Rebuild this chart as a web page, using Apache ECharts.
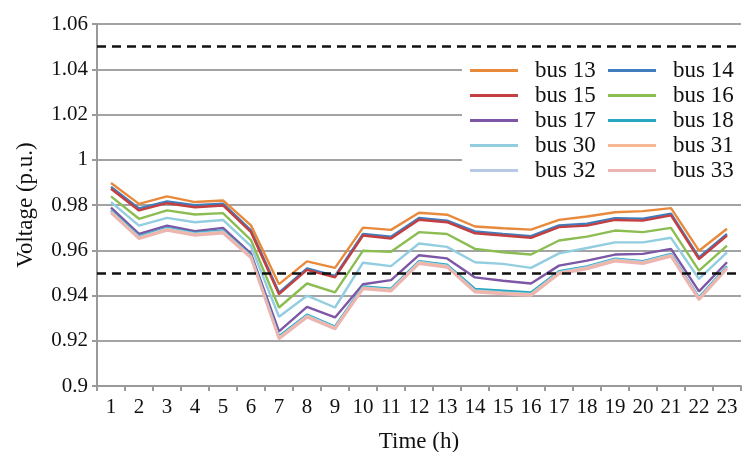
<!DOCTYPE html>
<html>
<head>
<meta charset="utf-8">
<script src="https://cdn.jsdelivr.net/npm/echarts@6/dist/echarts.min.js"></script>
<style>
  html, body { margin: 0; padding: 0; background: #fff; }
  #chart { width: 742px; height: 452px; }
</style>
</head>
<body>
<div id="chart"></div>
<script>
// Hours of the day on the category axis
const hours = ['1','2','3','4','5','6','7','8','9','10','11','12','13','14','15','16','17','18','19','20','21','22','23'];

// Bus voltages (p.u.) per hour
const bus13 = [0.9897, 0.9805, 0.9838, 0.9813, 0.9820, 0.9710, 0.9450, 0.9551, 0.9522, 0.9700, 0.9690, 0.9766, 0.9757, 0.9705, 0.9697, 0.9691, 0.9734, 0.9749, 0.9768, 0.9773, 0.9786, 0.9598, 0.9695];
const bus14 = [0.9880, 0.9785, 0.9816, 0.9799, 0.9806, 0.9688, 0.9413, 0.9520, 0.9487, 0.9672, 0.9660, 0.9743, 0.9731, 0.9683, 0.9672, 0.9662, 0.9710, 0.9717, 0.9742, 0.9739, 0.9762, 0.9568, 0.9672];
const bus15 = [0.9872, 0.9776, 0.9808, 0.9790, 0.9798, 0.9680, 0.9406, 0.9513, 0.9480, 0.9665, 0.9652, 0.9735, 0.9724, 0.9675, 0.9665, 0.9655, 0.9702, 0.9709, 0.9734, 0.9731, 0.9754, 0.9561, 0.9665];
const bus16 = [0.9838, 0.9739, 0.9776, 0.9758, 0.9764, 0.9645, 0.9347, 0.9453, 0.9414, 0.9598, 0.9593, 0.9680, 0.9672, 0.9606, 0.9591, 0.9581, 0.9643, 0.9660, 0.9687, 0.9680, 0.9699, 0.9510, 0.9620];
const bus17 = [0.9788, 0.9672, 0.9709, 0.9684, 0.9699, 0.9585, 0.9241, 0.9350, 0.9303, 0.9450, 0.9468, 0.9578, 0.9564, 0.9480, 0.9465, 0.9453, 0.9532, 0.9554, 0.9581, 0.9584, 0.9606, 0.9418, 0.9547];
const bus18 = [0.9776, 0.9662, 0.9699, 0.9677, 0.9687, 0.9576, 0.9220, 0.9315, 0.9263, 0.9440, 0.9430, 0.9552, 0.9536, 0.9429, 0.9421, 0.9413, 0.9507, 0.9529, 0.9563, 0.9552, 0.9584, 0.9392, 0.9529];
const bus30 = [0.9813, 0.9709, 0.9743, 0.9724, 0.9734, 0.9618, 0.9306, 0.9399, 0.9347, 0.9545, 0.9530, 0.9630, 0.9615, 0.9547, 0.9540, 0.9522, 0.9586, 0.9610, 0.9635, 0.9635, 0.9655, 0.9473, 0.9591];
const bus31 = [0.9768, 0.9654, 0.9691, 0.9669, 0.9679, 0.9569, 0.9211, 0.9307, 0.9255, 0.9432, 0.9422, 0.9544, 0.9528, 0.9418, 0.9410, 0.9403, 0.9499, 0.9521, 0.9555, 0.9544, 0.9576, 0.9384, 0.9521];
const bus32 = [0.9772, 0.9658, 0.9695, 0.9673, 0.9683, 0.9573, 0.9215, 0.9311, 0.9259, 0.9436, 0.9426, 0.9548, 0.9532, 0.9422, 0.9414, 0.9407, 0.9503, 0.9525, 0.9559, 0.9548, 0.9580, 0.9388, 0.9525];
const bus33 = [0.9764, 0.9650, 0.9687, 0.9665, 0.9675, 0.9565, 0.9207, 0.9303, 0.9251, 0.9428, 0.9418, 0.9540, 0.9524, 0.9414, 0.9406, 0.9399, 0.9495, 0.9517, 0.9551, 0.9540, 0.9572, 0.9380, 0.9517];

// Voltage limits drawn as dashed lines
const limits = [1.05, 0.948];

// Legend order
const legendNames = ['bus 13','bus 14','bus 15','bus 16','bus 17','bus 18','bus 30','bus 31','bus 32','bus 33'];

const SERIF = '"Liberation Serif", "Times New Roman", serif';

// Drawing order: pale lines at the bottom drawn last
const seriesDefs = [
  { name: 'bus 14', data: bus14, color: '#3f7dbd' },
  { name: 'bus 13', data: bus13, color: '#e8893c' },
  { name: 'bus 15', data: bus15, color: '#c43f41' },
  { name: 'bus 16', data: bus16, color: '#8cbd52' },
  { name: 'bus 30', data: bus30, color: '#92cde0' },
  { name: 'bus 17', data: bus17, color: '#7d56a6' },
  { name: 'bus 18', data: bus18, color: '#2aa8c0' },
  { name: 'bus 32', data: bus32, color: '#b7c8e2' },
  { name: 'bus 31', data: bus31, color: '#f7b895' },
  { name: 'bus 33', data: bus33, color: '#edb5b2' }
];

const series = seriesDefs.map(function (d) {
  return {
    name: d.name,
    type: 'line',
    data: d.data,
    symbol: 'none',
    color: d.color,
    lineStyle: { width: 2.4, color: d.color },
    emphasis: { disabled: true },
    z: 3
  };
});

// Dashed limit lines
series.push({
  name: 'limits',
  type: 'line',
  data: [],
  z: 4,
  markLine: {
    silent: true,
    symbol: 'none',
    label: { show: false },
    lineStyle: { color: '#111', width: 2.5, type: [9, 6] },
    data: limits.map(function (v) { return { yAxis: v }; })
  }
});

const chart = echarts.init(document.getElementById('chart'), null, { renderer: 'canvas' });
chart.setOption({
  animation: false,
  backgroundColor: '#fff',
  grid: { left: 97, right: 1, top: 24, bottom: 66, outerBoundsMode: 'none', containLabel: false },
  legend: {
    data: legendNames,
    left: 462,
    top: 56,
    width: 320,
    orient: 'horizontal',
    backgroundColor: '#fff',
    padding: [3, 2, 4, 8],
    itemGap: 2,
    itemWidth: 48,
    itemHeight: 3,
    icon: 'rect',
    textStyle: { fontFamily: SERIF, fontSize: 23, color: '#111', width: 71, lineHeight: 22, padding: [0, 0, 0, 12] }
  },
  xAxis: {
    type: 'category',
    data: hours,
    boundaryGap: true,
    name: 'Time (h)',
    nameLocation: 'middle',
    nameGap: 44,
    nameTextStyle: { fontFamily: SERIF, fontSize: 23, color: '#111' },
    axisLine: { lineStyle: { color: '#9a9a9a', width: 2 } },
    axisTick: { show: true, length: 5, lineStyle: { color: '#9a9a9a', width: 2 } },
    axisLabel: { fontFamily: SERIF, fontSize: 21, color: '#111', margin: 11, interval: 0 },
    splitLine: { show: false }
  },
  yAxis: {
    type: 'value',
    min: 0.9,
    max: 1.06,
    interval: 0.02,
    name: 'Voltage (p.u.)',
    nameLocation: 'middle',
    nameGap: 60,
    nameTextStyle: { fontFamily: SERIF, fontSize: 23, color: '#111' },
    axisLine: { show: true, lineStyle: { color: '#9a9a9a', width: 2 } },
    axisTick: { show: true, length: 5, lineStyle: { color: '#9a9a9a', width: 2 } },
    axisLabel: {
      fontFamily: SERIF, fontSize: 21, color: '#111', margin: 9,
      formatter: function (v) { return String(parseFloat(v.toFixed(2))); }
    },
    splitLine: { show: true, lineStyle: { color: '#a3a3a3', width: 2 } }
  },
  series: series
});
</script>
</body>
</html>
